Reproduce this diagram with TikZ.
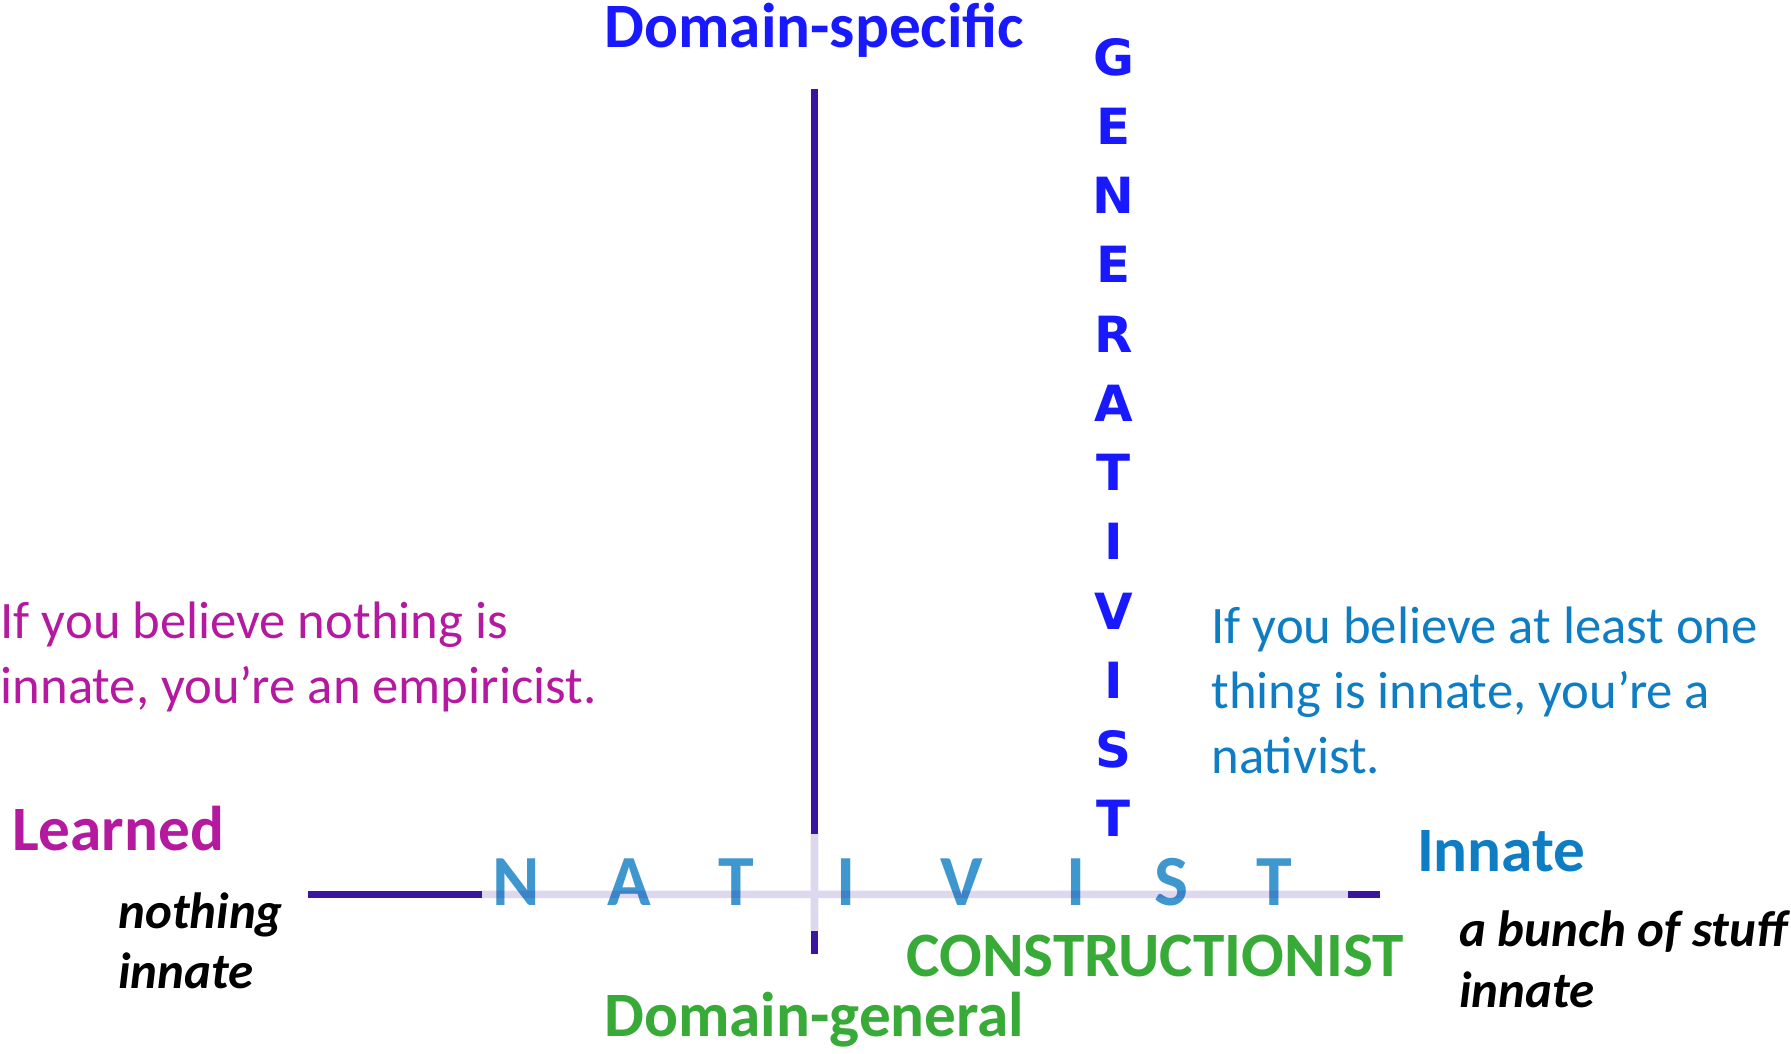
\documentclass[tikz,border=0pt]{standalone}
\usepackage{fontspec}
\setmainfont{Carlito}
\newfontfamily\wideface{DejaVu Sans}
\definecolor{axisdark}{RGB}{58,22,160}
\definecolor{specblue}{RGB}{25,25,255}
\definecolor{empmag}{RGB}{180,25,160}
\definecolor{natblue}{RGB}{15,125,195}
\definecolor{constgreen}{RGB}{55,170,55}
\tikzset{
  pole/.style={font=\fontsize{18}{22}\selectfont\bfseries, inner sep=0pt},
  note/.style={font=\fontsize{15}{18.5}\selectfont, align=left, inner sep=0pt},
  gloss/.style={font=\fontsize{14.5}{17.2}\selectfont\bfseries\itshape, align=left, inner sep=0pt},
  genletter/.style={font=\wideface\fontsize{14.2}{16}\selectfont\bfseries, text=specblue, inner sep=0pt},
  natletter/.style={font=\fontsize{20.5}{24}\selectfont\bfseries, text=natblue, text opacity=0.8, inner sep=0pt},
  axis/.style={line width=2.2pt, draw=axisdark}
}
\begin{document}
\begin{tikzpicture}[x=0.011423cm, y=-0.011423cm]
\useasboundingbox (0,0) rectangle (1568,922);
% axes
\coordinate (top) at (713,78);
\coordinate (vfade) at (713,730);
\coordinate (vback) at (713,815);
\coordinate (bottom) at (713,835);
\coordinate (left) at (270,783);
\coordinate (hfade) at (422,783);
\coordinate (hback) at (1180,783);
\coordinate (right) at (1208,783);
\draw[axis] (top) -- (vfade);
\draw[axis] (vback) -- (bottom);
\draw[axis] (left) -- (hfade);
\draw[axis] (hback) -- (right);
% nativist letters
\foreach \l/\x [count=\i] in {N/452,A/551,T/645,I/741,V/842,I/942,S/1026,T/1116}
  \node[natletter, anchor=base] (n\i) at (\x,793) {\l};
\begin{scope}[transparency group, opacity=0.17]
\draw[axis] (vfade) -- (vback);
\draw[axis] (hfade) -- (hback);
\end{scope}
% generativist letters
\foreach \l [count=\i from 0] in {G,E,N,E,R,A,T,I,V,I,S,T}
  \node[genletter] (g\i) at (975,50+60.6*\i) {\l};
% pole labels
\node[pole, text=specblue, anchor=base] (spec) at (713,42) {Domain-specific};
\node[pole, text=constgreen, anchor=base] (gen) at (713,907) {Domain-general};
\node[pole, text=empmag, anchor=base west] (learned) at (10,745) {Learned};
\node[pole, text=natblue, anchor=base west] (innate) at (1240,763) {Innate};
\node[pole, text=constgreen, anchor=base west] (constr) at (793,855) {CONSTRUCTIONIST};
% glosses
\node[gloss, anchor=north west] (none) at (103,781) {nothing\\innate};
\node[gloss, anchor=north west] (bunch) at (1277,797) {a bunch of stuff\\innate};
% notes
\node[note, text=empmag, anchor=north west] (emp) at (0,526) {If you believe nothing is\\innate, you’re an empiricist.};
\node[note, text=natblue, anchor=north west] (nat) at (1060,531) {If you believe at least one\\thing is innate, you’re a\\nativist.};
\end{tikzpicture}
\end{document}
